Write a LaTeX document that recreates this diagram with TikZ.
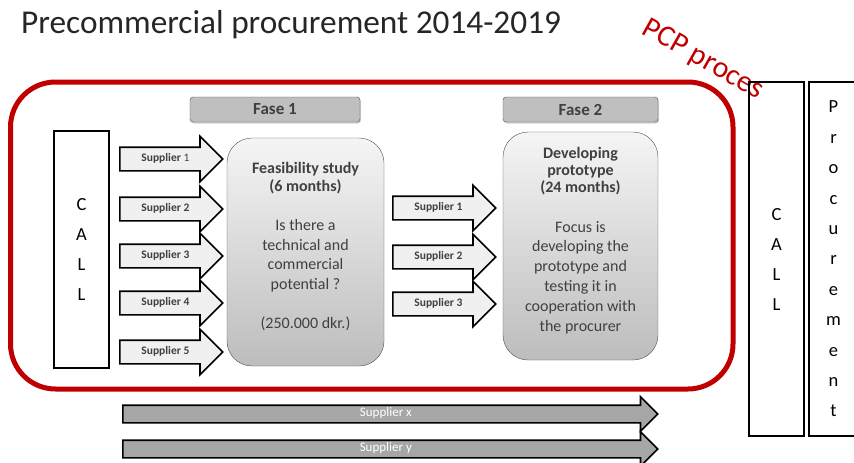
\documentclass[tikz,border=0pt]{standalone}
\usepackage{fontspec}
\setmainfont{Carlito}
\usetikzlibrary{shapes.arrows, shadows, positioning}

\definecolor{pcpred}{RGB}{192,0,0}
\definecolor{boxtext}{RGB}{64,64,64}

\begin{document}
\begin{tikzpicture}[x=1pt, y=-1pt,
    callbox/.style={draw, line width=1.8pt, inner sep=0pt, align=center,
        font=\fontsize{18.5}{30}\selectfont},
    fasebox/.style={draw=black!70, fill=black!25, rounded corners=3pt,
        minimum height=25, inner sep=0pt, text=boxtext,
        font=\fontsize{17}{20}\selectfont\bfseries,
        drop shadow={opacity=0.35, shadow xshift=1pt, shadow yshift=-1.5pt}},
    phasebox/.style={draw=black!70, rounded corners=25pt,
        top color=black!4, bottom color=black!26},
    phasetext/.style={inner sep=0pt, align=center, text=boxtext,
        font=\fontsize{16}{19.8}\selectfont},
    supplier/.style={single arrow, draw, line width=1.6pt, fill=black!6,
        single arrow head extend=11pt, single arrow tip angle=90,
        minimum height=103, text height=7pt, text depth=2pt,
        inner ysep=6.5pt, inner xsep=2pt, anchor=tail, text=boxtext,
        font=\fontsize{11.5}{13}\selectfont\bfseries},
    longsupplier/.style={supplier, fill=black!35,
        single arrow head extend=8.5pt, minimum height=535,
        inner ysep=3.5pt, text=white, font=\fontsize{13}{15}\selectfont}
]
    \useasboundingbox (0,0) rectangle (854,463);

    % heading
    \node[anchor=base west, inner sep=0pt, text=black!85,
        font=\fontsize{33.3}{36}\selectfont] (title) at (21,33)
        {Precommercial procurement 2014-2019};

    % the PCP frame
    \draw[pcpred, line width=5pt, rounded corners=45pt] (10.5,82) rectangle (733,389);
    \node[text=pcpred, rotate=-29.5, inner sep=0pt,
        font=\fontsize{30}{32}\selectfont] (pcp) at (703,60) {PCP proces};

    % calls
    \node[callbox, minimum width=55, minimum height=237] (call) at (81.5,249.5)
        {C\\A\\L\\L};
    \node[callbox, minimum width=55, minimum height=354] (call2) at (776.5,259)
        {C\\A\\L\\L};
    \node[callbox, minimum width=49, minimum height=354,
        font=\fontsize{18.5}{30.4}\selectfont] (proc) at (833.5,259)
        {P\\r\\o\\c\\u\\r\\e\\m\\e\\n\\t};

    % phases
    \node[fasebox, minimum width=170] (fase1) at (275,109.5) {Fase 1};
    \node[fasebox, minimum width=155] (fase2) at (580.5,109.5) {Fase 2};

    \node[phasebox, minimum width=157, minimum height=228] (feas) at (305.5,252) {};
    \node[phasetext, below=24pt of feas.north] (feastext)
        {\textbf{Feasibility study}\\[-1.5pt]
         \textbf{(6 months)}\\[19pt]
         Is there a\\technical and\\commercial\\potential ?\\[19pt]
         (250.000 dkr.)};

    \node[phasebox, minimum width=155, minimum height=228] (proto) at (580.5,246) {};
    \node[phasetext, below=15pt of proto.north] (prototext)
        {\textbf{Developing}\\[-2.5pt]
         \textbf{prototype}\\[-2.5pt]
         \textbf{(24 months)}\\[19.5pt]
         Focus is\\developing the\\prototype and\\testing it in\\
         cooperation with\\the procurer};

    % suppliers
    \node[supplier] (sup1) at (119,159) {Supplier \textmd{1}};
    \foreach \n/\y in {2/209, 3/256, 4/303, 5/352}
        \node[supplier] (sup\n) at (119,\y) {Supplier \n};
    \foreach \n/\y in {1/208, 2/257, 3/304}
        \node[supplier] (next\n) at (392,\y) {Supplier \n};

    \node[longsupplier] (supx) at (122,414) {Supplier x};
    \node[longsupplier] (supy) at (122,449) {Supplier y};
\end{tikzpicture}
\end{document}
